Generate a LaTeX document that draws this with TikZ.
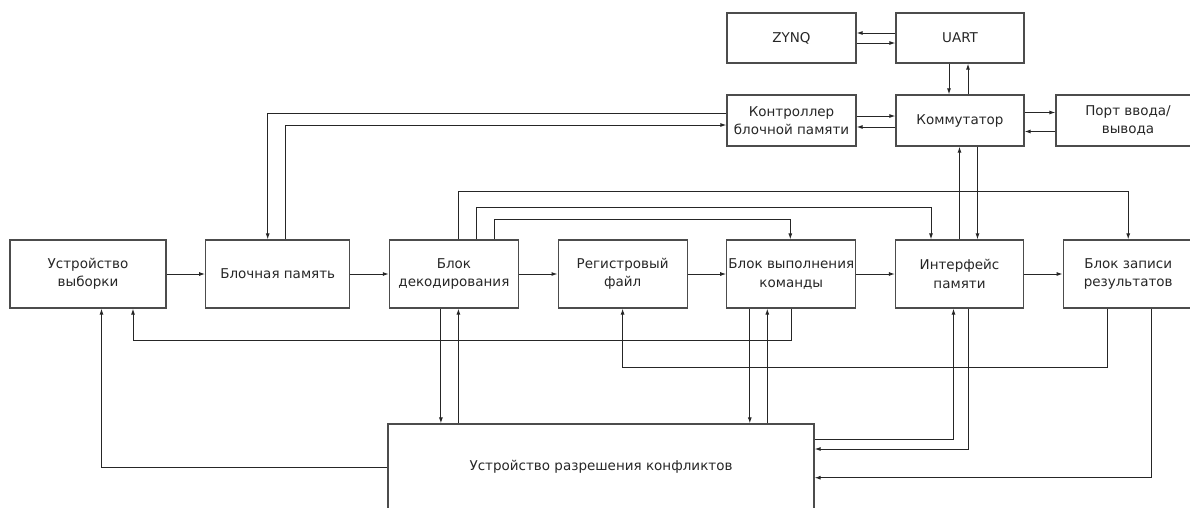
\documentclass[tikz,border=0pt]{standalone}
\usepackage{fontspec}
\setmainfont{DejaVu Sans}
\usetikzlibrary{arrows.meta,chains,positioning}

\begin{document}
\begin{tikzpicture}[
  x=1pt, y=-1pt,
  start chain=pipe going right,
  node distance=38.5pt,
  unit/.style={
    draw=black!70,
    line width=1.2pt,
    text=black!85,
    minimum width=129pt,
    minimum height=68pt,
    inner sep=1pt,
    align=center,
    font=\fontsize{13.5}{18.5}\selectfont
  },
  wire/.style={draw=black!85,line width=1pt},
  arr/.style={wire,-{Latex[length=6pt,width=4pt]}},
  every join/.style={arr}
]
  \path[use as bounding box] (0,0) rectangle (1190,507);
  \clip (0,0) rectangle (1190,507);

  % pipeline
  \node[unit,on chain=pipe,minimum width=156pt] (fetch) at (88,274) {Устройство\\выборки};
  \node[unit,on chain=pipe,minimum width=144pt,join] (bram) {Блочная память};
  \node[unit,on chain=pipe,join] (decode) {Блок\\декодирования};
  \node[unit,on chain=pipe,join] (regfile) {Регистровый\\файл};
  \node[unit,on chain=pipe,join] (exec) {Блок выполнения\\команды};
  \node[unit,on chain=pipe,minimum width=128pt,join] (memif) {Интерфейс\\памяти};
  \node[unit,on chain=pipe,minimum width=130pt,join] (wb) {Блок записи\\результатов};

  % upper part
  \node[unit,minimum height=50pt] (zynq) at (791.5,38) {ZYNQ};
  \node[unit,minimum height=50pt,minimum width=128pt] (uart) at (960,38) {UART};
  \node[unit,minimum height=51pt] (ctrl) at (791.5,120.5) {Контроллер\\блочной памяти};
  \node[unit,minimum height=51pt,minimum width=128pt] (comm) at (960,120.5) {Коммутатор};
  \node[unit,minimum height=51pt,minimum width=144pt] (port) at (1128,120.5) {Порт ввода/\\вывода};

  % conflict unit
  \node[unit,minimum width=426pt,minimum height=86pt] (hazard) at (601,467) {Устройство разрешения конфликтов};

  \draw[arr] ([yshift=5pt]uart.west) -- ([yshift=5pt]zynq.east);
  \draw[arr] ([yshift=-5pt]zynq.east) -- ([yshift=-5pt]uart.west);
  \draw[arr] ([xshift=-11pt]uart.south) -- ([xshift=-11pt]comm.north);
  \draw[arr] ([xshift=8pt]comm.north) -- ([xshift=8pt]uart.south);
  \draw[arr] ([yshift=4.5pt]ctrl.east) -- ([yshift=4.5pt]comm.west);
  \draw[arr] ([yshift=-6.5pt]comm.west) -- ([yshift=-6.5pt]ctrl.east);
  \draw[arr] ([yshift=8pt]comm.east) -- ([yshift=8pt]port.west);
  \draw[arr] ([yshift=-11pt]port.west) -- ([yshift=-11pt]comm.east);
  \draw[arr] ([yshift=7.5pt]ctrl.west) -| ([xshift=-10pt]bram.north);
  \draw[arr] ([xshift=7.5pt]bram.north) |- ([yshift=-4.5pt]ctrl.west);
  \draw[arr] (memif.north) -- (memif.north |- comm.south);
  \draw[arr] ([xshift=17.5pt]comm.south) -- ([xshift=17.5pt]comm.south |- memif.north);

  % decoder outputs
  \draw[arr] ([xshift=4.5pt]decode.north) -- ++(0,-47.5) -| (wb.north);
  \draw[arr] ([xshift=22.5pt]decode.north) -- ++(0,-32) -| ([xshift=-28.5pt]memif.north);
  \draw[arr] ([xshift=41pt]decode.north) -- ++(0,-20) -| ([xshift=-1pt]exec.north);

  % feedback paths
  \draw[arr] (exec.south) -- ++(0,32) -| ([xshift=45pt]fetch.south);
  \draw[arr] ([xshift=-21pt]wb.south) -- ++(0,58.5) -| (regfile.south);

  \draw[arr] ([xshift=-13pt]decode.south) -- ([xshift=-13pt]decode.south |- hazard.north);
  \draw[arr] ([xshift=4.5pt]decode.south |- hazard.north) -- ([xshift=4.5pt]decode.south);
  \draw[arr] ([xshift=-41.5pt]exec.south) -- ([xshift=-41.5pt]exec.south |- hazard.north);
  \draw[arr] ([xshift=-24pt]exec.south |- hazard.north) -- ([xshift=-24pt]exec.south);
  \draw[arr] ([yshift=28pt]hazard.east) -| ([xshift=-6pt]memif.south);
  \draw[arr] ([xshift=8.5pt]memif.south) |- ([yshift=18pt]hazard.east);
  \draw[arr] ([xshift=23pt]wb.south) |- ([yshift=-10.7pt]hazard.east);
  \draw[arr] (hazard.west) -| ([xshift=13.5pt]fetch.south);
\end{tikzpicture}
\end{document}
